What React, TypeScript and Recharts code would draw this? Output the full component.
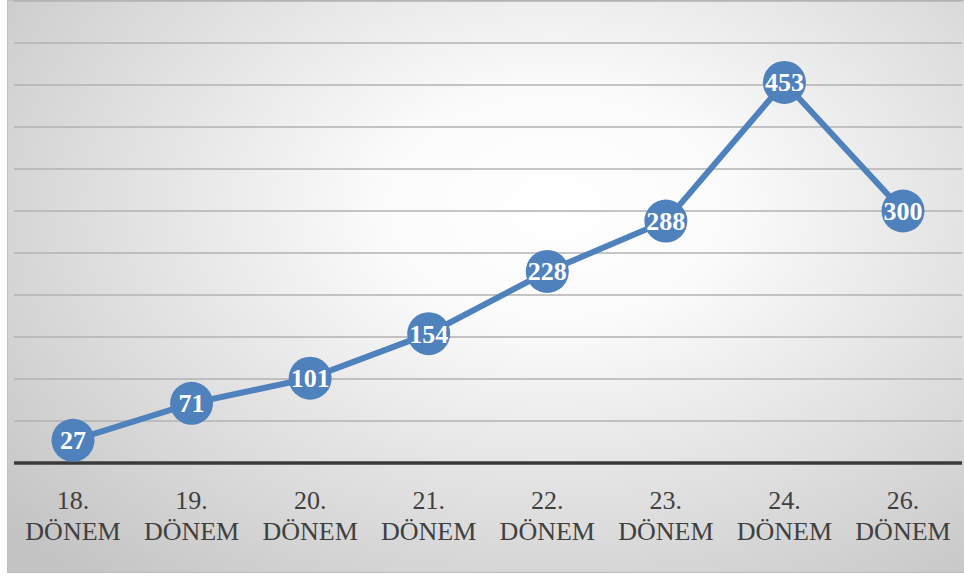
import React from "react"
import { LineChart, Line, XAxis, YAxis, CartesianGrid, LabelList } from "recharts"

const periods = ["18.", "19.", "20.", "21.", "22.", "23.", "24.", "26."]
const counts = [27, 71, 101, 154, 228, 288, 453, 300]
const yTicks = [0, 50, 100, 150, 200, 250, 300, 350, 400, 450, 500, 550]

const data = periods.map((p, i) => ({ period: p, count: counts[i] }))

const BLUE = "#4f81bd"
const SERIF = "'Liberation Serif', 'Times New Roman', Times, serif"

function PeriodTick(props: any) {
  const { x, y, payload } = props
  return (
    <g>
      <text x={x} y={y + 38} textAnchor="middle" fontFamily={SERIF} fontSize={26} fill="#404040">
        {payload.value}
      </text>
      <text x={x} y={y + 69} textAnchor="middle" fontFamily={SERIF} fontSize={26} fill="#404040">
        DÖNEM
      </text>
    </g>
  )
}

function ValueLabel(props: any) {
  const { x, y, value } = props
  return (
    <text x={x} y={y + 9} textAnchor="middle" fontFamily={SERIF} fontSize={26} fontWeight="bold" fill="#ffffff">
      {value}
    </text>
  )
}

export default function App() {
  return (
    <div style={{ position: "absolute", left: 0, top: 0, width: 964, height: 579, background: "#fff" }}>
      <div
        style={{
          position: "absolute",
          left: 7,
          top: 0,
          width: 960,
          height: 573,
          boxSizing: "border-box",
          border: "1px solid #bdbdbd",
          background:
            "radial-gradient(ellipse 75% 85% at 57% 36%, #ffffff 0%, #fbfbfb 24%, #dedede 64%, #c4c4c4 100%)",
        }}
      />
      <div style={{ position: "absolute", left: 0, top: 0 }}>
        <LineChart width={964} height={579} data={data} margin={{ top: 1, right: 2, bottom: 6, left: 14 }}>
          <CartesianGrid vertical={false} stroke="#b2b2b2" strokeWidth={1.5} />
          <YAxis hide domain={[0, 550]} ticks={yTicks} />
          <XAxis
            dataKey="period"
            height={110}
            padding={{ left: 59, right: 59 }}
            axisLine={{ stroke: "#3a3a3a", strokeWidth: 3.5 }}
            tickLine={false}
            tick={<PeriodTick />}
            interval={0}
          />
          <Line
            dataKey="count"
            stroke={BLUE}
            strokeWidth={6}
            dot={{ r: 21.5, fill: BLUE, stroke: "none" }}
            activeDot={false}
            isAnimationActive={false}
          >
            <LabelList dataKey="count" content={<ValueLabel />} />
          </Line>
        </LineChart>
      </div>
    </div>
  )
}
